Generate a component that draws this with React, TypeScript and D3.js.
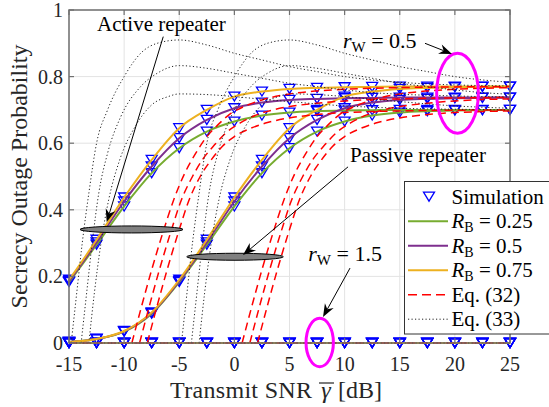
import React from "react";
import * as d3 from "d3";

// ---------- data ----------
// normalised SNR axis t (dB); active repeater drawn at x = t, passive at x = t + 10
const snrGrid = [-25, -22.5, -20, -17.5, -15, -12.5, -10, -7.5, -5, -2.5, 0, 2.5, 5, 7.5, 10, 12.5, 15, 17.5, 20, 22.5, 25];
const exactRB025 = [0.003, 0.012, 0.034, 0.088, 0.183, 0.295, 0.41, 0.51, 0.585, 0.635, 0.665, 0.683, 0.692, 0.696, 0.698, 0.699, 0.7, 0.7, 0.7, 0.7, 0.7];
const exactRB05 = [0.003, 0.012, 0.035, 0.09, 0.186, 0.302, 0.425, 0.53, 0.615, 0.67, 0.705, 0.722, 0.73, 0.733, 0.735, 0.736, 0.737, 0.737, 0.737, 0.737, 0.737];
const exactRB075 = [0.003, 0.012, 0.036, 0.092, 0.19, 0.31, 0.437, 0.55, 0.645, 0.7, 0.74, 0.755, 0.763, 0.766, 0.768, 0.769, 0.77, 0.77, 0.77, 0.77, 0.77];

const simSNR = [-15, -12.5, -10, -7.5, -5, -2.5, 0, 2.5, 5, 7.5, 10, 12.5, 15, 17.5, 20, 22.5, 25];
const rw15Values = [0, 0, 0, 0, 0, 0, 0, 0, 0, 0, 0, 0, 0, 0, 0, 0, 0];

const repeaterOffsets = [0, 10]; // active, passive

// Eq. (32) approximations (t, value)
const eq32T_RB075 = [-9.3, -8.5, -7.5, -6.5, -5.5, -4.5, -3.5, -2.5, -1.5, -0.5, 1, 2.5, 5, 7.5, 10, 12.5, 15, 20, 25];
const eq32V_RB075 = [0, 0.1, 0.22, 0.33, 0.43, 0.51, 0.57, 0.62, 0.655, 0.685, 0.712, 0.73, 0.748, 0.757, 0.762, 0.765, 0.767, 0.769, 0.77];
const eq32T_RB05 = [-8.6, -7.8, -6.8, -5.8, -4.8, -3.8, -2.8, -1.8, -0.8, 0.5, 2, 3.5, 5, 7.5, 10, 12.5, 15, 20, 25];
const eq32V_RB05 = [0, 0.1, 0.22, 0.33, 0.43, 0.5, 0.555, 0.595, 0.63, 0.66, 0.685, 0.7, 0.71, 0.72, 0.727, 0.731, 0.733, 0.736, 0.737];
const eq32T_RB025 = [-7.9, -7.1, -6.1, -5.1, -4.1, -3.1, -2.1, -1.1, 0, 1.5, 3, 5, 7.5, 10, 12.5, 15, 20, 25];
const eq32V_RB025 = [0, 0.1, 0.22, 0.33, 0.43, 0.5, 0.55, 0.59, 0.62, 0.645, 0.662, 0.676, 0.686, 0.692, 0.695, 0.697, 0.699, 0.7];

// Eq. (33) approximations (t, value)
const eq33T_RB075 = [-14.8, -14.3, -13.8, -13.2, -12.5, -11.5, -10, -8.5, -7, -5, -2.5, 0, 2.5, 5, 7.5, 10, 12.5, 15, 17.5, 20, 22.5, 25];
const eq33V_RB075 = [0, 0.15, 0.3, 0.45, 0.6, 0.7, 0.8, 0.87, 0.9, 0.91, 0.895, 0.87, 0.85, 0.83, 0.815, 0.8, 0.79, 0.783, 0.778, 0.775, 0.773, 0.772];
const eq33T_RB05 = [-13.9, -13.4, -12.9, -12.3, -11.5, -10.3, -8.5, -7, -5, -2.5, 0, 2.5, 5, 7.5, 10, 12.5, 15, 17.5, 20, 22.5, 25];
const eq33V_RB05 = [0, 0.15, 0.3, 0.45, 0.57, 0.68, 0.77, 0.81, 0.833, 0.825, 0.81, 0.795, 0.78, 0.77, 0.76, 0.752, 0.747, 0.744, 0.742, 0.74, 0.739];
const eq33T_RB025 = [-13.2, -12.7, -12.1, -11.4, -10.4, -9, -7.5, -6, -5, -2.5, 0, 2.5, 5, 7.5, 10, 12.5, 15, 17.5, 20, 22.5, 25];
const eq33V_RB025 = [0, 0.15, 0.3, 0.43, 0.55, 0.65, 0.715, 0.74, 0.748, 0.746, 0.74, 0.732, 0.725, 0.718, 0.712, 0.708, 0.705, 0.703, 0.702, 0.701, 0.7];

const xTicks = [-15, -10, -5, 0, 5, 10, 15, 20, 25];
const yTicks = [0, 0.2, 0.4, 0.6, 0.8, 1];
const yTickLabels = ["0", "0.2", "0.4", "0.6", "0.8", "1"];

const seriesColors = { g: "#77AC30", p: "#7E2F8E", o: "#EDB120" };

// ---------- layout ----------
const W = 549;
const H = 407;
const PL = 69, PR = 510, PT = 10, PB = 343;
const FONT = "'Liberation Serif', 'Times New Roman', serif";

const xS = d3.scaleLinear().domain([-15, 25]).range([PL, PR]);
const yS = d3.scaleLinear().domain([0, 1]).range([PB, PT]);

const lineGen = d3
  .line<[number, number]>()
  .x((d) => xS(d[0]))
  .y((d) => yS(d[1]))
  .curve(d3.curveMonotoneX);

const zip = (ts: number[], vs: number[], off: number): [number, number][] =>
  ts.map((t, i) => [t + off, vs[i]] as [number, number]);

const TRI = "M -5.5 -4.5 L 5.5 -4.5 L 0 4.5 Z";

function Arrow({ x1, y1, x2, y2 }: { x1: number; y1: number; x2: number; y2: number }) {
  const ax = xS(x1), ay = yS(y1), bx = xS(x2), by = yS(y2);
  const ang = Math.atan2(by - ay, bx - ax);
  const L = 13, Wd = 5, N = 9;
  const ux = Math.cos(ang), uy = Math.sin(ang);
  const px = -uy, py = ux;
  const p1 = [bx - ux * L + px * Wd, by - uy * L + py * Wd];
  const p2 = [bx - ux * N, by - uy * N];
  const p3 = [bx - ux * L - px * Wd, by - uy * L - py * Wd];
  return (
    <g>
      <line x1={ax} y1={ay} x2={bx - ux * N} y2={by - uy * N} stroke="#000" strokeWidth={1} />
      <path d={`M ${bx} ${by} L ${p1[0]} ${p1[1]} L ${p2[0]} ${p2[1]} L ${p3[0]} ${p3[1]} Z`} fill="#000" />
    </g>
  );
}

export default function App() {
  const exactSets = [
    { v: exactRB025, c: seriesColors.g },
    { v: exactRB05, c: seriesColors.p },
    { v: exactRB075, c: seriesColors.o },
  ];
  const eq32Sets = [
    { t: eq32T_RB025, v: eq32V_RB025 },
    { t: eq32T_RB05, v: eq32V_RB05 },
    { t: eq32T_RB075, v: eq32V_RB075 },
  ];
  const eq33Sets = [
    { t: eq33T_RB025, v: eq33V_RB025 },
    { t: eq33T_RB05, v: eq33V_RB05 },
    { t: eq33T_RB075, v: eq33V_RB075 },
  ];

  const markers: { x: number; y: number }[] = [];
  repeaterOffsets.forEach((off) => {
    exactSets.forEach((s) => {
      simSNR.forEach((xv) => {
        const idx = snrGrid.indexOf(xv - off);
        if (idx >= 0) markers.push({ x: xv, y: s.v[idx] });
      });
      simSNR.forEach((xv, i) => markers.push({ x: xv, y: rw15Values[i] }));
    });
  });

  const legendRows = [
    { kind: "marker", label: "Simulation" },
    { kind: "solid", color: seriesColors.g, label: "0.25" },
    { kind: "solid", color: seriesColors.p, label: "0.5" },
    { kind: "solid", color: seriesColors.o, label: "0.75" },
    { kind: "dash", label: "Eq. (32)" },
    { kind: "dot", label: "Eq. (33)" },
  ];

  return (
    <svg width={W} height={H} style={{ position: "absolute", left: 0, top: 0, background: "#fff" }} fontFamily={FONT}>
      <defs>
        <clipPath id="plotClip">
          <rect x={PL - 1} y={PT - 1} width={PR - PL + 2} height={PB - PT + 4} />
        </clipPath>
      </defs>
      <rect x={0} y={0} width={W} height={H} fill="#fff" />
      {/* grid */}
      {xTicks.map((t) => (
        <line key={"gx" + t} x1={xS(t)} x2={xS(t)} y1={PT} y2={PB} stroke="#e3e3e3" strokeWidth={1} />
      ))}
      {yTicks.map((t) => (
        <line key={"gy" + t} x1={PL} x2={PR} y1={yS(t)} y2={yS(t)} stroke="#e3e3e3" strokeWidth={1} />
      ))}

      {/* simulation markers */}
      {markers.map((m, i) => (
        <path key={"m" + i} d={TRI} transform={`translate(${xS(m.x)},${yS(m.y)})`} fill="none" stroke="#0000ff" strokeWidth={1.3} />
      ))}

      <g clipPath="url(#plotClip)">
        {/* r_W = 1.5 curves (all zero) */}
        {exactSets.map((s, k) => (
          <path key={"z" + k} d={lineGen(zip(simSNR, rw15Values, 0)) || ""} fill="none" stroke={s.c} strokeWidth={2} />
        ))}
        {/* exact curves */}
        {repeaterOffsets.map((off) =>
          exactSets.map((s, k) => (
            <path key={"e" + off + k} d={lineGen(zip(snrGrid, s.v, off)) || ""} fill="none" stroke={s.c} strokeWidth={2} />
          ))
        )}
        {/* Eq. (32) */}
        <path d={lineGen(zip(simSNR, rw15Values, 0)) || ""} fill="none" stroke="#ff0000" strokeWidth={1.5} strokeDasharray="8,5" />
        {repeaterOffsets.map((off) =>
          eq32Sets.map((s, k) => (
            <path key={"r" + off + k} d={lineGen(zip(s.t, s.v, off)) || ""} fill="none" stroke="#ff0000" strokeWidth={1.5} strokeDasharray="8,5" />
          ))
        )}
        {/* Eq. (33) */}
        <path d={lineGen(zip(simSNR, rw15Values, 0)) || ""} fill="none" stroke="#000" strokeWidth={1} strokeDasharray="1.2,2.3" />
        {repeaterOffsets.map((off) =>
          eq33Sets.map((s, k) => (
            <path key={"b" + off + k} d={lineGen(zip(s.t, s.v, off)) || ""} fill="none" stroke="#222" strokeWidth={1} strokeDasharray="1.2,2.3" />
          ))
        )}
      </g>

      {/* axes box */}
      <rect x={PL} y={PT} width={PR - PL} height={PB - PT} fill="none" stroke="#707070" strokeWidth={1.5} />
      {xTicks.map((t) => (
        <g key={"tx" + t}>
          <line x1={xS(t)} x2={xS(t)} y1={PB} y2={PB - 5} stroke="#707070" strokeWidth={1.2} />
          <line x1={xS(t)} x2={xS(t)} y1={PT} y2={PT + 5} stroke="#707070" strokeWidth={1.2} />
          <text x={xS(t)} y={371} textAnchor="middle" fontSize={20} fill="#262626">{String(t)}</text>
        </g>
      ))}
      {yTicks.map((t, i) => (
        <g key={"ty" + t}>
          <line x1={PL} x2={PL + 5} y1={yS(t)} y2={yS(t)} stroke="#707070" strokeWidth={1.2} />
          <line x1={PR} x2={PR - 5} y1={yS(t)} y2={yS(t)} stroke="#707070" strokeWidth={1.2} />
          <text x={PL - 6} y={yS(t) + 7} textAnchor="end" fontSize={20} fill="#262626">{yTickLabels[i]}</text>
        </g>
      ))}

      {/* axis titles */}
      <text x={170} y={398} textAnchor="start" fontSize={24} fill="#262626" textLength={142} lengthAdjust="spacing">Transmit SNR</text>
      <text x={326} y={398} textAnchor="middle" fontSize={24} fontStyle="italic" fill="#262626">γ</text>
      <line x1={319} x2={334} y1={383} y2={383} stroke="#262626" strokeWidth={1.2} />
      <text x={338} y={398} textAnchor="start" fontSize={24} fill="#262626">[dB]</text>
      <text transform={`translate(27,${(PT + PB) / 2}) rotate(-90)`} textAnchor="middle" fontSize={24} fill="#262626">
        Secrecy Outage Probability
      </text>

      {/* annotations */}
      <ellipse cx={xS(-9.33)} cy={yS(0.341)} rx={xS(-9.33 + 4.67) - xS(-9.33)} ry={3.5} fill="#808080" stroke="#000" strokeWidth={1} />
      <ellipse cx={xS(0.06)} cy={yS(0.259)} rx={xS(0.06 + 4.38) - xS(0.06)} ry={3.5} fill="#808080" stroke="#000" strokeWidth={1} />
      <ellipse cx={xS(20.24)} cy={yS(0.75)} rx={xS(20.24 + 1.89) - xS(20.24)} ry={yS(0.63) - yS(0.75)} fill="none" stroke="#ff00ff" strokeWidth={3} />
      <ellipse cx={xS(7.74)} cy={yS(0.0015)} rx={xS(7.74 + 1.24) - xS(7.74)} ry={yS(0) - yS(0.0727)} fill="none" stroke="#ff00ff" strokeWidth={3} />

      <Arrow x1={-6.45} y1={0.92} x2={-11.58} y2={0.363} />
      <Arrow x1={10.31} y1={0.529} x2={0.78} y2={0.264} />
      <Arrow x1={17.29} y1={0.9} x2={19.74} y2={0.868} />
      <Arrow x1={10.49} y1={0.225} x2={8.04} y2={0.078} />

      <text x={xS(-12.46)} y={yS(0.937)} fontSize={21} fill="#000">Active repeater</text>
      <text x={xS(10.49)} y={yS(0.544)} fontSize={21} fill="#000">Passive repeater</text>
      <text x={xS(9.85)} y={yS(0.885)} fontSize={22} fill="#000">
        <tspan fontStyle="italic">r</tspan>
        <tspan fontSize={15} dy={4}>W</tspan>
        <tspan dy={-4}> = 0.5</tspan>
      </text>
      <text x={xS(6.7)} y={yS(0.247)} fontSize={22} fill="#000">
        <tspan fontStyle="italic">r</tspan>
        <tspan fontSize={15} dy={4}>W</tspan>
        <tspan dy={-4}> = 1.5</tspan>
      </text>

      {/* legend */}
      <rect x={404.5} y={181.5} width={150} height={152.5} fill="#fff" stroke="#333" strokeWidth={1} />
      {legendRows.map((r, i) => {
        const cy = 196.7 + i * 24.5;
        return (
          <g key={"lg" + i}>
            {r.kind === "marker" && (
              <path d={TRI} transform={`translate(429,${cy})`} fill="none" stroke="#0000ff" strokeWidth={1.3} />
            )}
            {r.kind === "solid" && <line x1={408} x2={448} y1={cy} y2={cy} stroke={r.color} strokeWidth={2} />}
            {r.kind === "dash" && <line x1={408} x2={448} y1={cy} y2={cy} stroke="#ff0000" strokeWidth={1.5} strokeDasharray="9,5" />}
            {r.kind === "dot" && <line x1={408} x2={448} y1={cy} y2={cy} stroke="#222" strokeWidth={1} strokeDasharray="1.2,2.3" />}
            {r.kind === "solid" ? (
              <text x={451.5} y={cy + 7} fontSize={21} fill="#000">
                <tspan fontStyle="italic">R</tspan>
                <tspan fontSize={14} dy={4}>B</tspan>
                <tspan dy={-4}> = {r.label}</tspan>
              </text>
            ) : (
              <text x={451.5} y={cy + 7} fontSize={21} fill="#000">{r.label}</text>
            )}
          </g>
        );
      })}
    </svg>
  );
}
